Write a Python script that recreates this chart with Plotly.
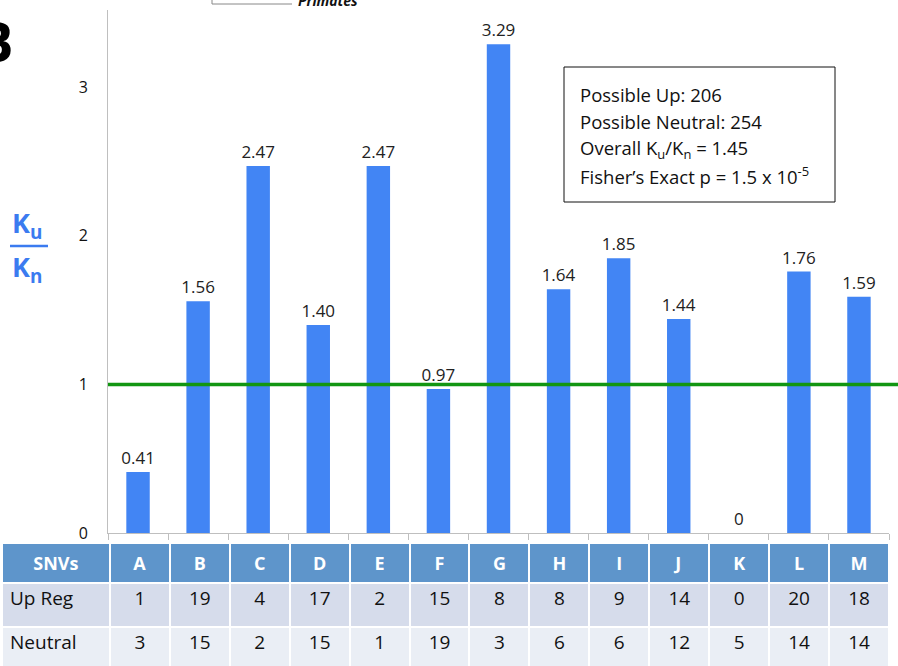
import plotly.graph_objects as go

W, H = 898, 670  # figure slightly taller than the 666px window; bottom row is cut as in the reference

categories = ["A", "B", "C", "D", "E", "F", "G", "H", "I", "J", "K", "L", "M"]
ratio = [0.41, 1.56, 2.47, 1.40, 2.47, 0.97, 3.29, 1.64, 1.85, 1.44, 0, 1.76, 1.59]
up_reg = [1, 19, 4, 17, 2, 15, 8, 8, 9, 14, 0, 20, 18]
neutral = [3, 15, 2, 15, 1, 19, 3, 6, 6, 12, 5, 14, 14]
row_labels = ["Up Reg", "Neutral"]
y_ticks = [0, 1, 2, 3]
stats_lines = [
    "Possible Up: 206",
    "Possible Neutral: 254",
    "Overall K<sub>u</sub>/K<sub>n</sub> = 1.45",
    "Fisher’s Exact p = 1.5 x 10<sup>-5</sup>",
]
labels = [f"{v:.2f}" if v else "0" for v in ratio]

FONT = "Open Sans"
BAR = "#4285F4"
BLUE_T = "#3B7BF0"


def px(x):
    return x / W


def py(y):
    return 1 - y / H


fig = go.Figure()

fig.add_trace(go.Bar(
    x=categories, y=ratio, text=labels, textposition="outside",
    constraintext="none",
    textfont=dict(size=17, color="#222", family=FONT),
    outsidetextfont=dict(size=17, color="#222", family=FONT),
    marker=dict(color=BAR, line=dict(width=0)),
    width=0.39, cliponaxis=False, showlegend=False,
))

fig.add_trace(go.Table(
    domain=dict(x=[px(2), px(889)], y=[0, py(543)]),
    columnwidth=[108] + [60] * len(categories),
    header=dict(
        values=["<b>SNVs</b>"] + [f"<b>{c}</b>" for c in categories],
        fill_color="#5E95CB", line=dict(color="white", width=2),
        font=dict(color="white", size=18, family=FONT),
        align="center", height=39,
    ),
    cells=dict(
        values=[row_labels] + [[u, n] for u, n in zip(up_reg, neutral)],
        fill_color=[["#D6DCEB", "#EAEEF5"]] * (len(categories) + 1),
        line=dict(color="white", width=2),
        font=dict(color="#111", size=19, family=FONT),
        align=["left"] + ["center"] * len(categories), height=44,
    ),
))

fig.update_layout(
    template="none",
    width=W, height=H,
    margin=dict(l=0, r=0, t=0, b=0, autoexpand=False),
    paper_bgcolor="white", plot_bgcolor="white",
    font=dict(family=FONT, size=16),
    showlegend=False,
    xaxis=dict(
        domain=[px(108), px(889)], range=[-0.5, 12.5],
        showticklabels=False, showgrid=False, zeroline=False,
        showline=True, linecolor="#BFBFBF", linewidth=1,
        ticks="outside", ticklen=6, tickcolor="#BFBFBF", tickson="boundaries",
        automargin=False, anchor="y",
    ),
    yaxis=dict(
        domain=[py(533), py(10)], range=[0, 3.52],
        tickvals=y_ticks, showgrid=False, zeroline=False,
        showline=True, linecolor="#BFBFBF", linewidth=1,
        tickfont=dict(size=16, color="#111", family=FONT),
        ticks="", ticklabelstandoff=16, automargin=False,
    ),
)

# reference line at 1
fig.add_shape(type="line", xref="paper", yref="y",
              x0=px(108), x1=1.0, y0=1, y1=1,
              line=dict(color="#129612", width=3.5))

# stats box
fig.add_shape(type="rect", xref="paper", yref="paper",
              x0=px(564), x1=px(835), y0=py(67), y1=py(202),
              line=dict(color="#111", width=1), fillcolor="white")
for i, line in enumerate(stats_lines):
    fig.add_annotation(
        xref="paper", yref="paper", x=px(578), y=py(94 + 27.3 * i),
        xanchor="left", yanchor="middle", align="left",
        text=line, showarrow=False,
        font=dict(size=18.5, color="#111", family=FONT),
    )

# Ku / Kn axis title
fig.add_annotation(xref="paper", yref="paper", x=px(27), y=py(224),
                   xanchor="center", yanchor="middle",
                   text="<b>K<sub>u</sub></b>", showarrow=False,
                   font=dict(size=27, color=BLUE_T, family=FONT))
fig.add_annotation(xref="paper", yref="paper", x=px(27), y=py(268),
                   xanchor="center", yanchor="middle",
                   text="<b>K<sub>n</sub></b>", showarrow=False,
                   font=dict(size=27, color=BLUE_T, family=FONT))
fig.add_shape(type="line", xref="paper", yref="paper",
              x0=px(10), x1=px(48), y0=py(246), y1=py(246),
              line=dict(color=BLUE_T, width=2.5))

# panel letter
fig.add_annotation(xref="paper", yref="paper", x=px(16), y=py(40),
                   xanchor="right", yanchor="middle", text="<b>B</b>",
                   showarrow=False, font=dict(size=56, color="black",
                                              family=FONT))

# cut-off legend remnant
fig.add_shape(type="path", xref="paper", yref="paper",
              path=f"M {px(212)},{py(-4)} L {px(212)},{py(4)} L {px(292)},{py(4)}",
              line=dict(color="#888", width=1))
fig.add_annotation(xref="paper", yref="paper", x=px(296), y=py(1),
                   xanchor="left", yanchor="middle",
                   text="<b><i>Primates</i></b>", showarrow=False,
                   font=dict(size=14, color="#111", family=FONT))

fig.write_html(
    "out.html",
    config={"displayModeBar": False},
    post_script=("document.body.style.margin='0px';"
                 "document.body.style.padding='0px';"
                 "document.body.style.overflow='hidden';"
                 "document.documentElement.style.overflow='hidden';"),
)
